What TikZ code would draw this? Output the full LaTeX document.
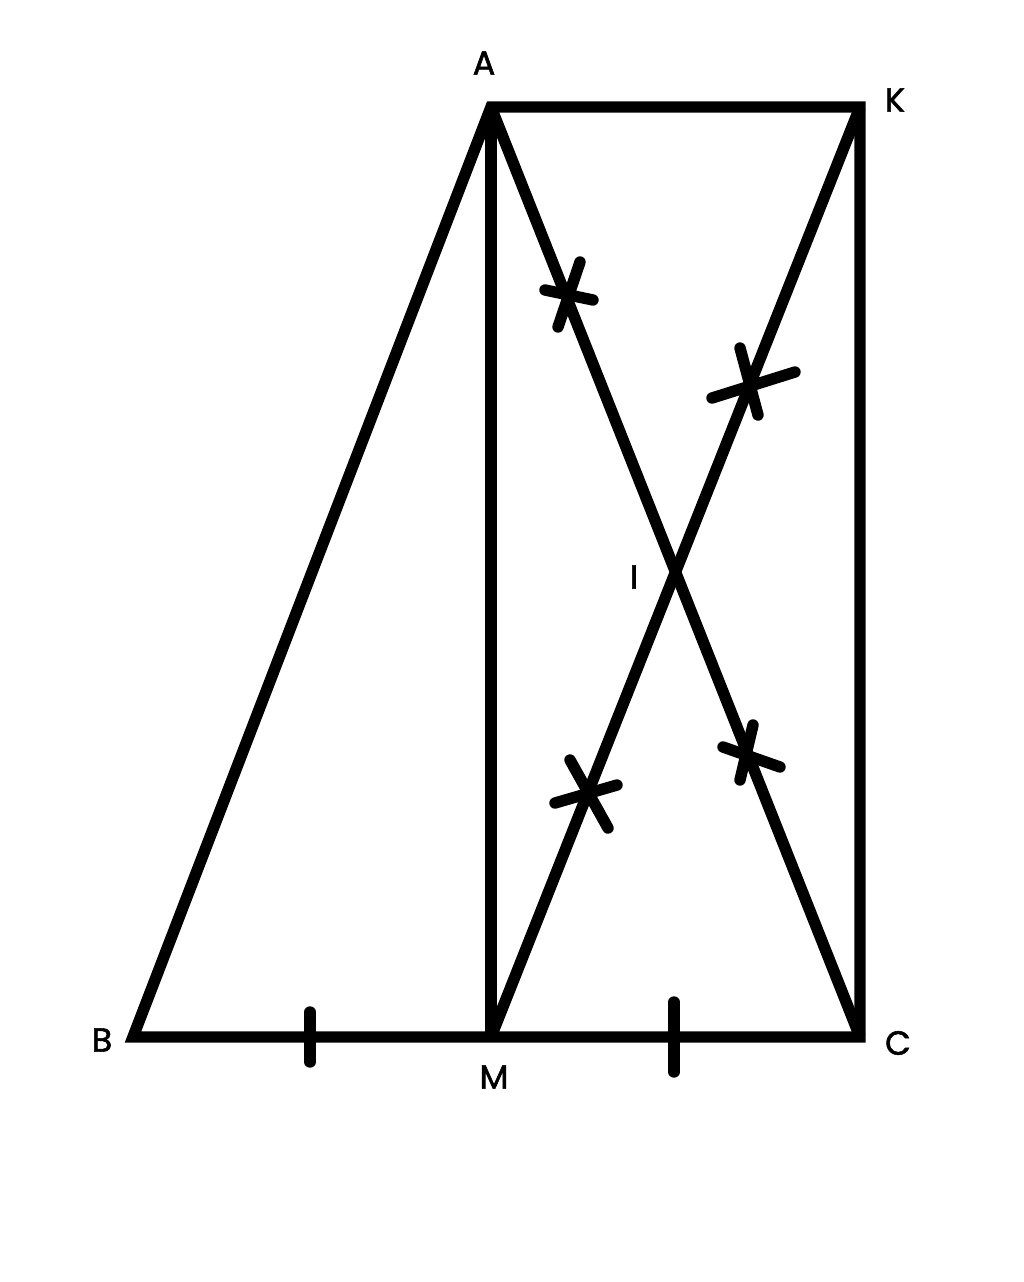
\documentclass[tikz,border=0pt]{standalone}
\usepackage{fontspec}
\setmainfont{Poppins}
\newfontfamily\lblfont{Poppins}[FakeBold=1.6]
\begin{document}
\begin{tikzpicture}[x=0.02cm,y=-0.02cm,
  seg/.style={line width=6.5pt,line join=miter},
  tick/.style={line width=6.5pt,line cap=round},
  lab/.style={font=\lblfont\fontsize{19}{22}\selectfont,inner sep=0pt}]
\useasboundingbox (0,0) rectangle (1024,1282);
\coordinate (A) at (491,107);
\coordinate (K) at (860,107);
\coordinate (B) at (133,1037);
\coordinate (M) at (491,1037);
\coordinate (C) at (860,1037);
\coordinate (I) at (676,572);
\draw[seg] (B) -- (A) -- (K) -- (C) -- cycle;
\draw[seg] (A) -- (M);
\draw[seg] (A) -- (C);
\draw[seg] (K) -- (M);
% ticks on BC
\draw[tick] (310,1012) -- (310,1062);
\draw[tick] (674,1002) -- (674,1072);
% marks
\draw[tick] (545,290) -- (593,300);
\draw[tick] (580,262) -- (558,327);
\draw[tick] (712,398) -- (795,372);
\draw[tick] (740,348) -- (758,415);
\draw[tick] (555,803) -- (617,785);
\draw[tick] (570,760) -- (608,828);
\draw[tick] (723,747) -- (780,767);
\draw[tick] (753,725) -- (740,780);
% labels
\node[lab] (lA) at (484,63) {A};
\node[lab] (lK) at (895,100) {K};
\node[lab] (lB) at (102,1040) {B};
\node[lab] (lM) at (494,1077) {M};
\node[lab] (lC) at (898,1043) {C};
\node[lab] (lI) at (634,577) {I};
\end{tikzpicture}
\end{document}
